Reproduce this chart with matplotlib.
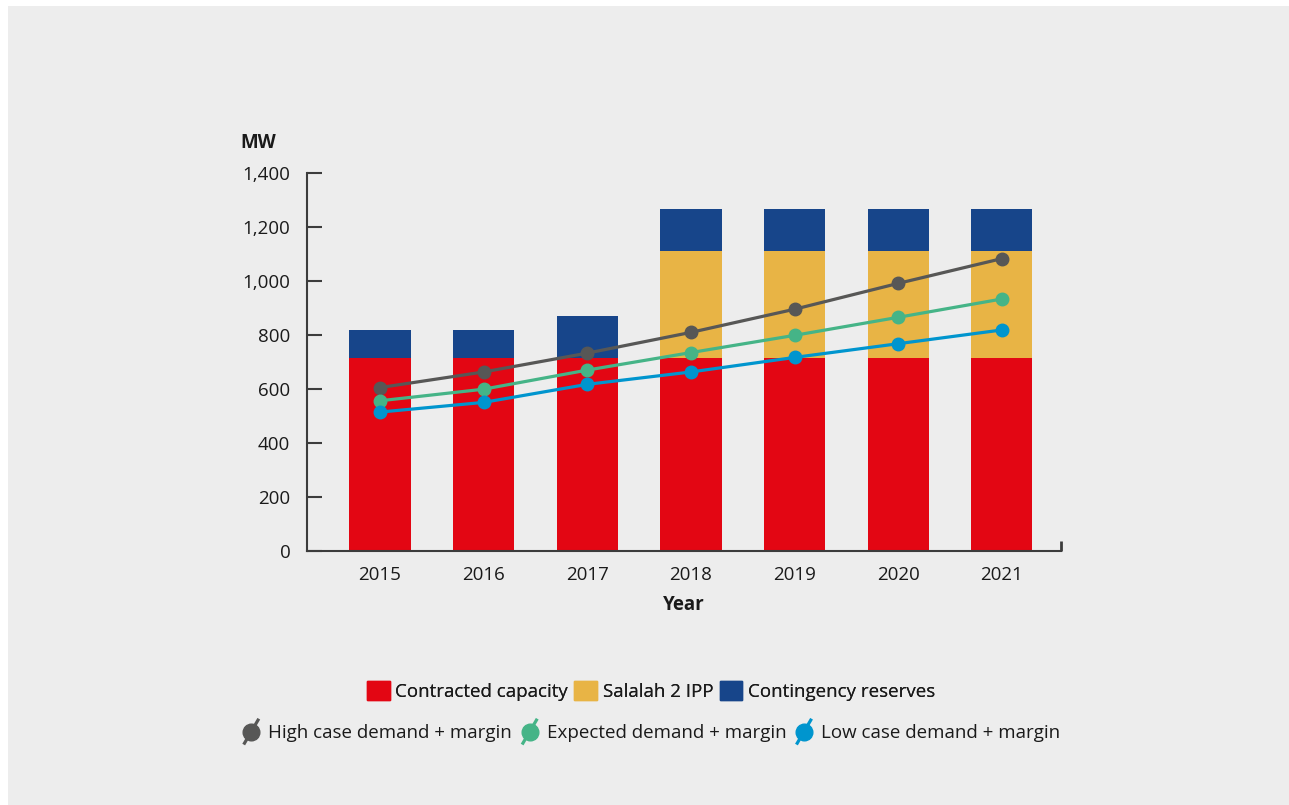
import numpy as np
import matplotlib
matplotlib.use('Agg')
import matplotlib.pyplot as plt
from matplotlib.lines import Line2D
from matplotlib.patches import Patch, Rectangle
from matplotlib.legend_handler import HandlerBase

plt.rcParams['font.family'] = ['Open Sans', 'DejaVu Sans']

# Capacity and demand outlook (MW)
years = ['2015', '2016', '2017', '2018', '2019', '2020', '2021']
contracted = [716, 716, 716, 716, 716, 716, 716]
salalah2 = [0, 0, 0, 396, 396, 396, 396]
contingency = [103, 103, 155, 156, 156, 156, 156]
high_case = [605, 663, 733, 810, 896, 992, 1084]
expected = [556, 599, 670, 735, 799, 866, 934]
low_case = [514, 550, 617, 663, 717, 768, 819]

RED = '#E30613'
YELLOW = '#E8B445'
BLUE = '#17458A'
GREY_LINE = '#575756'
GREEN = '#45B487'
CYAN = '#0095CE'
PANEL = '#EDEDED'
AXIS = '#3C3C3C'
TEXT = '#1A1A1A'
FS = 13.5

fig = plt.figure(figsize=(12.89, 8.05), dpi=100, facecolor='white')
fig.patches.append(Rectangle((8 / 1289, 0), 1, 1 - 6 / 805, transform=fig.transFigure,
                             facecolor=PANEL, edgecolor='none', zorder=-10))

ax = fig.add_axes([307 / 1289, 1 - 550.5 / 805, 754 / 1289, 377 / 805])
ax.set_facecolor('none')

x = np.arange(len(years))
w = 0.59
bottom2 = np.array(contracted) + np.array(salalah2)
ax.bar(x, contracted, w, color=RED, zorder=2)
ax.bar(x, salalah2, w, bottom=contracted, color=YELLOW, zorder=2)
ax.bar(x, contingency, w, bottom=bottom2, color=BLUE, zorder=2)

line_kw = dict(lw=2.3, marker='o', ms=9, zorder=3)
ax.plot(x, high_case, color=GREY_LINE, **line_kw)
ax.plot(x, expected, color=GREEN, **line_kw)
ax.plot(x, low_case, color=CYAN, **line_kw)

ax.set_xlim(-0.704, 6.57)
ax.set_ylim(0, 1400)
ax.set_yticks(np.arange(0, 1401, 200))
ax.set_yticklabels([f'{v:,}' for v in range(0, 1401, 200)])
ax.set_xticks(x)
ax.set_xticklabels(years)

for s in ['top', 'right']:
    ax.spines[s].set_visible(False)
for s in ['left', 'bottom']:
    ax.spines[s].set_color(AXIS)
    ax.spines[s].set_linewidth(1.5)
ax.tick_params(axis='y', direction='in', length=11, width=1.5, color=AXIS,
               labelsize=FS, labelcolor=TEXT, pad=12)
ax.tick_params(axis='x', length=0, labelsize=FS, labelcolor=TEXT, pad=11)
# small end tick on the right of the x axis
ax.plot([1, 1], [0, 0.025], transform=ax.transAxes, color=AXIS, lw=2,
        clip_on=False, solid_capstyle='butt')

ax.set_xlabel('Year', fontsize=FS, fontweight='bold', color=TEXT, labelpad=8)
fig.text(240 / 1289, 1 - 143 / 805, 'MW', fontsize=FS, fontweight='bold',
         color=TEXT, ha='left', va='center')


class SlantHandler(HandlerBase):
    def create_artists(self, legend, orig_handle, xdescent, ydescent,
                       width, height, fontsize, trans):
        x0, y0 = -xdescent, -ydescent
        c = orig_handle.get_color()
        ln = Line2D([x0 + width * 0.2, x0 + width * 0.8],
                    [y0 - height * 0.1, y0 + height * 1.1], color=c, lw=2.3)
        mk = Line2D([x0 + width * 0.5], [y0 + height * 0.5], marker='o',
                    ms=12, color=c, lw=0)
        ln.set_transform(trans)
        mk.set_transform(trans)
        return [ln, mk]


bar_handles = [Patch(color=RED), Patch(color=YELLOW), Patch(color=BLUE)]
bar_labels = ['Contracted capacity', 'Salalah 2 IPP', 'Contingency reserves']
leg1 = fig.legend(bar_handles, bar_labels, loc='center', ncol=3,
                  bbox_to_anchor=(651 / 1289, 1 - 691 / 805), frameon=False,
                  fontsize=FS, handlelength=1.2, handleheight=1.2,
                  handletextpad=0.3, columnspacing=0.35, labelcolor=TEXT)

line_handles = [Line2D([], [], color=GREY_LINE), Line2D([], [], color=GREEN),
                Line2D([], [], color=CYAN)]
line_labels = ['High case demand + margin', 'Expected demand + margin',
               'Low case demand + margin']
leg2 = fig.legend(line_handles, line_labels, loc='center', ncol=3,
                  bbox_to_anchor=(650 / 1289, 1 - 732 / 805), frameon=False,
                  fontsize=FS, handlelength=1.2, handleheight=1.2,
                  handletextpad=0.3, columnspacing=0.35, labelcolor=TEXT,
                  handler_map={Line2D: SlantHandler()})
fig.add_artist(leg1)

fig.savefig('out.png', dpi=100, facecolor='white')
